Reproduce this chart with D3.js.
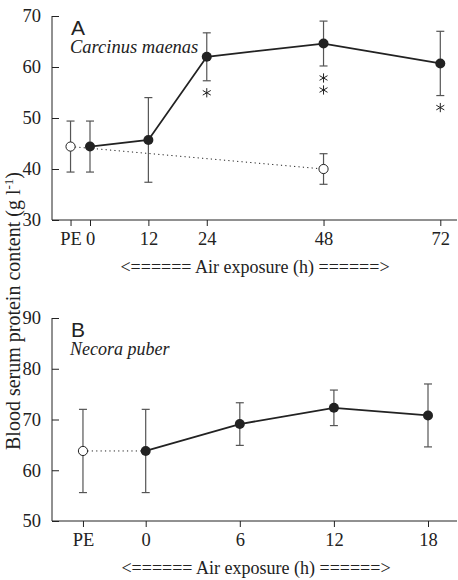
<!DOCTYPE html>
<html>
<head>
<meta charset="utf-8">
<script src="https://cdn.jsdelivr.net/npm/d3@7"></script>
<style>
  html, body { margin: 0; padding: 0; background: #fff; }
</style>
</head>
<body>
<svg id="chart" width="458" height="580"></svg>
<script>
// ---------- data ----------
// panel A: Carcinus maenas
const hoursA = [0, 12, 24, 48, 72];
const meanA = [44.4, 45.7, 62.0, 64.6, 60.7];
const errA = [5.0, 8.3, 4.7, 4.4, 6.3];
const starsA = [0, 0, 1, 2, 1];
const ctrlHoursA = [-4, 48];          // -4 = PE position
const ctrlMeanA = [44.4, 40.0];
const ctrlErrA = [5.0, 3.0];
const tickValsA = [-4, 0, 12, 24, 48, 72];
const tickLblA = ["PE", "0", "12", "24", "48", "72"];

// panel B: Necora puber
const hoursB = [0, 6, 12, 18];
const meanB = [63.8, 69.1, 72.3, 70.8];
const errB = [8.2, 4.2, 3.5, 6.2];
const starsB = [0, 0, 0, 0];
const ctrlHoursB = [-4, 0];
const ctrlMeanB = [63.8, 63.8];
const ctrlErrB = [8.2, 0];           // 0 = no open marker (joins the filled point)
const tickValsB = [-4, 0, 6, 12, 18];
const tickLblB = ["PE", "0", "6", "12", "18"];

const svg = d3.select("#chart");
const INK = "#222";
const BAR = "#555";
const SERIF = '"Times New Roman", "Liberation Serif", "DejaVu Serif", serif';

function panel(o) {
  const g = svg.append("g");
  const x = d3.scaleLinear().domain(o.xDom).range(o.xRange);
  const y = d3.scaleLinear().domain(o.yDom).range(o.yRange);
  const [y0, y1] = o.yRange;
  const left = o.axisX;

  // y axis (ticks inward)
  const yAxis = d3.axisLeft(y).tickValues(d3.range(o.yDom[0], o.yDom[1] + 1, 10)).tickSize(-7).tickPadding(11);
  const ya = g.append("g").attr("transform", `translate(${left},0)`).call(yAxis);
  // x axis (ticks outward)
  const xAxis = d3.axisBottom(x).tickValues(o.tickVals).tickFormat((d, i) => o.tickLbl[i]).tickSize(6).tickPadding(6);
  const xa = g.append("g").attr("transform", `translate(0,${y0})`).call(xAxis);
  [ya, xa].forEach(a => {
    a.attr("font-family", SERIF).attr("font-size", 18.5);
    a.select(".domain").remove();
    a.selectAll("line").attr("stroke", INK);
    a.selectAll("text").attr("fill", INK);
  });
  g.append("line").attr("x1", left).attr("x2", left).attr("y1", y0).attr("y2", y1).attr("stroke", INK);
  g.append("line").attr("x1", left).attr("x2", 457).attr("y1", y0).attr("y2", y0).attr("stroke", INK);

  // axis title
  g.append("text").attr("x", o.titleX).attr("y", y0 + 53).attr("text-anchor", "middle")
    .attr("font-family", SERIF).attr("fill", INK).attr("font-size", 18).text("<====== Air exposure (h) ======>");

  // control (dotted) series
  const line = d3.line().x(d => x(d[0])).y(d => y(d[1]));
  const ctrl = o.ctrlHours.map((h, i) => [h, o.ctrlMean[i], o.ctrlErr[i]]);
  g.append("path").datum(ctrl).attr("d", line).attr("fill", "none")
    .attr("stroke", INK).attr("stroke-width", 1).attr("stroke-dasharray", "1.2,3.2");

  const main = o.hours.map((h, i) => [h, o.mean[i], o.err[i], o.stars[i]]);
  g.append("path").datum(main).attr("d", line).attr("fill", "none")
    .attr("stroke", INK).attr("stroke-width", 1.8);

  // error bars
  const bars = ctrl.filter(d => d[2] > 0).concat(main);
  bars.forEach(d => {
    const cx = x(d[0]), top = y(d[1] + d[2]), bot = y(d[1] - d[2]);
    g.append("line").attr("x1", cx).attr("x2", cx).attr("y1", top).attr("y2", bot).attr("stroke", BAR).attr("stroke-width", 1.2);
    [top, bot].forEach(v => g.append("line").attr("x1", cx - 4).attr("x2", cx + 4).attr("y1", v).attr("y2", v)
      .attr("stroke", BAR).attr("stroke-width", 1.2));
  });

  // markers
  ctrl.filter(d => d[2] > 0).forEach(d => {
    g.append("circle").attr("cx", x(d[0])).attr("cy", y(d[1])).attr("r", 4.6)
      .attr("fill", "#fff").attr("stroke", INK).attr("stroke-width", 1);
  });
  main.forEach(d => {
    g.append("circle").attr("cx", x(d[0])).attr("cy", y(d[1])).attr("r", 5).attr("fill", INK);
  });

  // significance stars
  const star = d3.symbol(d3.symbolAsterisk, 60);
  main.forEach(d => {
    for (let k = 0; k < d[3]; k++) {
      g.append("path").attr("d", star)
        .attr("transform", `translate(${x(d[0])},${y(d[1] - d[2]) + 12 + k * 12})`)
        .attr("fill", "none").attr("stroke", INK).attr("stroke-width", 1);
    }
  });

  // panel letter + species
  g.append("text").attr("x", left + 19).attr("y", y1 + 19).attr("fill", INK)
    .attr("font-family", '"Liberation Sans", Arial, sans-serif').attr("font-size", 21).text(o.letter);
  g.append("text").attr("x", left + 18).attr("y", y1 + 37).attr("fill", INK).attr("font-family", SERIF)
    .attr("font-style", "italic").attr("font-size", o.speciesSize).text(o.species);
}

panel({
  xDom: [0, 72], xRange: [90, 440.3], yDom: [30, 70], yRange: [220, 16], axisX: 52,
  hours: hoursA, mean: meanA, err: errA, stars: starsA,
  ctrlHours: ctrlHoursA, ctrlMean: ctrlMeanA, ctrlErr: ctrlErrA,
  tickVals: tickValsA, tickLbl: tickLblA, letter: "A", species: "Carcinus maenas", speciesSize: 18.5, titleX: 255
});
panel({
  xDom: [0, 18], xRange: [145.7, 428], yDom: [50, 90], yRange: [521, 318], axisX: 52,
  hours: hoursB, mean: meanB, err: errB, stars: starsB,
  ctrlHours: ctrlHoursB, ctrlMean: ctrlMeanB, ctrlErr: ctrlErrB,
  tickVals: tickValsB, tickLbl: tickLblB, letter: "B", species: "Necora puber", speciesSize: 18, titleX: 256
});

// shared y title
svg.append("text").attr("transform", "translate(20,311) rotate(-90)").attr("text-anchor", "middle")
  .attr("font-family", SERIF).attr("fill", INK).attr("font-size", 20)
  .html('Blood serum protein content (g l<tspan dy="-7" font-size="13">-1</tspan><tspan dy="7">)</tspan>');
</script>
</body>
</html>
